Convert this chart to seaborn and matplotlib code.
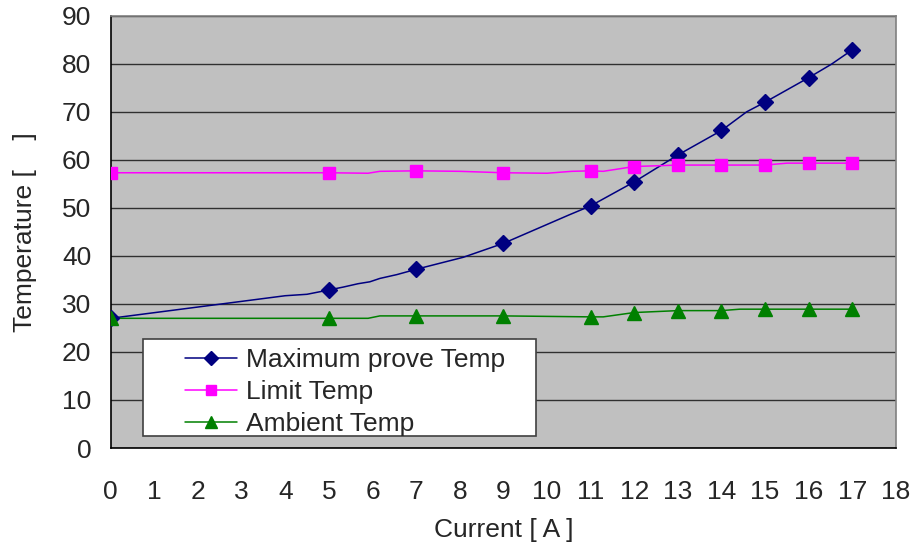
import numpy as np
import pandas as pd
import matplotlib
matplotlib.use("Agg")
import matplotlib.pyplot as plt
from matplotlib.patches import Rectangle
from matplotlib.lines import Line2D
import seaborn as sns

# ---- data ----
# marker points
current_marks = [0, 5, 7, 9, 11, 12, 13, 14, 15, 16, 17]
max_probe_marks = [27.0, 32.9, 37.2, 42.6, 50.4, 55.4, 61.0, 66.1, 72.0, 77.1, 82.9]
limit_marks = [57.3, 57.3, 57.7, 57.3, 57.7, 58.6, 58.9, 58.9, 58.9, 59.3, 59.3]
ambient_marks = [27.0, 27.0, 27.5, 27.5, 27.3, 28.2, 28.6, 28.6, 28.9, 28.9, 28.9]

# full measured lines (markers shown only at selected points)
max_probe_x = [0, 4.0, 4.5, 5, 5.33, 5.67, 5.94, 6.17, 6.56, 7, 8.08, 9, 10.5, 11, 12, 13, 14, 14.58, 15, 16, 16.52, 17]
max_probe_y = [27.0, 31.7, 32.0, 32.9, 33.5, 34.2, 34.6, 35.3, 36.1, 37.2, 39.7, 42.6, 48.5, 50.4, 55.4, 61.0, 66.1, 70.0, 72.0, 77.1, 79.9, 82.9]

limit_x = [0, 5, 5.9, 6.17, 7, 8.0, 9, 10.0, 10.57, 11, 11.29, 12, 13, 14, 15, 15.5, 16, 17]
limit_y = [57.3, 57.3, 57.2, 57.6, 57.7, 57.6, 57.3, 57.2, 57.6, 57.7, 57.6, 58.6, 58.9, 58.9, 58.9, 59.3, 59.3, 59.3]

ambient_x = [0, 5, 5.9, 6.17, 7, 9, 11, 11.29, 12, 13, 14, 14.42, 15, 16, 17]
ambient_y = [27.0, 27.0, 27.0, 27.5, 27.5, 27.5, 27.3, 27.3, 28.2, 28.6, 28.6, 28.9, 28.9, 28.9, 28.9]

series_names = ["Maximum prove Temp", "Limit Temp", "Ambient Temp"]
x_ticks = list(range(0, 19))
y_ticks = list(range(0, 91, 10))

# ---- style ----
sns.set_style("white")
plt.rcParams["font.family"] = ["Liberation Sans", "DejaVu Sans"]

colors = ["#000080", "#FF00FF", "#008000"]
markers = ["D", "s", "^"]
msizes = [8, 8, 10]

fig = plt.figure(figsize=(9.17, 5.52), dpi=100)
ax = fig.add_axes([0.1207, 0.1884, 0.8564, 0.7832])
ax.set_facecolor("#C0C0C0")

lines = [(max_probe_x, max_probe_y), (limit_x, limit_y), (ambient_x, ambient_y)]
marks = [max_probe_marks, limit_marks, ambient_marks]

for i in range(3):
    lx, ly = lines[i]
    sns.lineplot(x=lx, y=ly, ax=ax, color=colors[i], linewidth=1.1, sort=False,
                 estimator=None, zorder=3)
    ax.plot(current_marks, marks[i], linestyle="none", marker=markers[i],
            markersize=msizes[i], color=colors[i], markeredgecolor=colors[i], zorder=4)

ax.set_xlim(0, 18)
ax.set_ylim(0, 90)
ax.set_xticks(x_ticks)
ax.set_yticks(y_ticks)
ax.yaxis.grid(True, color="#000000", linewidth=1.0, alpha=0.75)
ax.xaxis.grid(False)
ax.set_axisbelow(True)

for s in ["left", "bottom"]:
    ax.spines[s].set_color("black")
    ax.spines[s].set_linewidth(1.2)
for s in ["top", "right"]:
    ax.spines[s].set_color("#808080")
    ax.spines[s].set_linewidth(1.2)

fs = 19
ax.tick_params(axis="x", direction="in", length=8, width=1, color="black",
               labelsize=fs, pad=23, top=False)
ax.tick_params(axis="y", direction="in", length=6, width=1, color="black",
               labelsize=fs, pad=14, right=False)

ax.set_xlabel("Current [ A ]", fontsize=fs, labelpad=10)
ax.set_ylabel("Temperature [    ]", fontsize=fs, labelpad=18)

# legend box
ax.add_patch(Rectangle((0.0411, 0.0278), 0.5005, 0.2243, transform=ax.transAxes,
                       facecolor="white", edgecolor="#404040", linewidth=1.2, zorder=5))
handles = [Line2D([0], [0], color=colors[i], marker=markers[i], markersize=msizes[i] - 1,
                  linewidth=1.1) for i in range(3)]
leg = ax.legend(handles, series_names, loc="center left",
                bbox_to_anchor=(0.095, 0.129), frameon=False, fontsize=fs,
                handlelength=1.95, handletextpad=0.35, labelspacing=0.3,
                borderpad=0.0, borderaxespad=0.0)
leg.set_zorder(6)

fig.savefig("out.png", dpi=100)
